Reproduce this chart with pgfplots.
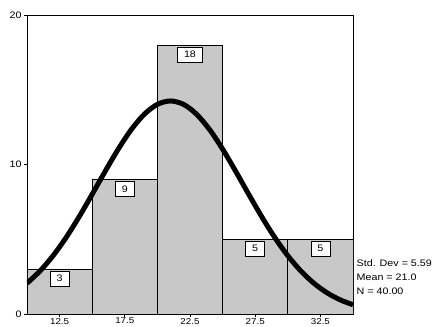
\documentclass[border=0pt]{standalone}
\usepackage{pgfplots}
\pgfplotsset{compat=1.18}
\usepackage{fontspec}
\setmainfont{Liberation Sans}[FakeStretch=1.14]
\definecolor{barfill}{RGB}{200,200,200}
\begin{document}
\begin{tikzpicture}[font=\fontsize{9.4bp}{11bp}\selectfont]
\begin{axis}[
  scale only axis,
  width=326bp, height=298.5bp,
  xmin=10, xmax=35, ymin=0, ymax=20,
  xtick={12.5,17.5,22.5,27.5,32.5},
  xticklabels={12.5,17.5,22.5,27.5,32.5},
  ytick={0,10,20},
  yticklabels={0,10,20},
  xtick pos=bottom, ytick pos=left,
  tick align=outside,
  major tick length=3bp,
  tick style={black, line width=1bp},
  axis line style={black, line width=0.8bp},
  /pgf/number format/assume math mode=true,
  yticklabel style={xshift=1bp},
  xticklabel style={yshift=2.5bp, font=\fontsize{8.6bp}{9bp}\selectfont},
]
\addplot[ybar, bar width=5, bar shift=0pt, fill=barfill, draw=black, line width=0.7bp,
  nodes near coords,
  every node near coord/.append style={anchor=north, yshift=-1.5bp, draw=black, fill=white,
     line width=0.7bp, inner xsep=6.5bp, inner ysep=3.5bp, minimum height=15bp, text=black}]
  coordinates {(12.5,3) (17.5,9) (22.5,18) (27.5,5) (32.5,5)};
\addplot[black, line width=5bp, smooth] coordinates {
(10,2.060) (11,2.882) (12,3.905) (13,5.126) (14,6.518) (15,8.024) (16,9.568)
(17,11.050) (18,12.360) (19,13.389) (20,14.047) (21,14.274) (22,14.047)
(23,13.389) (24,12.360) (25,11.050) (26,9.568) (27,8.024) (28,6.518)
(29,5.126) (30,3.905) (31,2.882) (32,2.060) (33,1.425) (34,0.955) (35,0.620)};
\coordinate (bl) at (axis cs:10,0);
\coordinate (tr) at (axis cs:35,20);
\coordinate (s1) at (axis cs:35,3.41);
\coordinate (s2) at (axis cs:35,2.48);
\coordinate (s3) at (axis cs:35,1.54);
\end{axis}
\node[anchor=west, inner sep=0pt, xshift=3.5bp] at (s1) {Std. Dev = 5.59};
\node[anchor=west, inner sep=0pt, xshift=3.5bp] at (s2) {Mean = 21.0};
\node[anchor=west, inner sep=0pt, xshift=3.5bp] at (s3) {N = 40.00};
\pgfresetboundingbox
\path[use as bounding box] ([shift={(-27bp,-13bp)}]bl) rectangle ([shift={(79bp,15.5bp)}]tr);
\end{tikzpicture}
\end{document}
